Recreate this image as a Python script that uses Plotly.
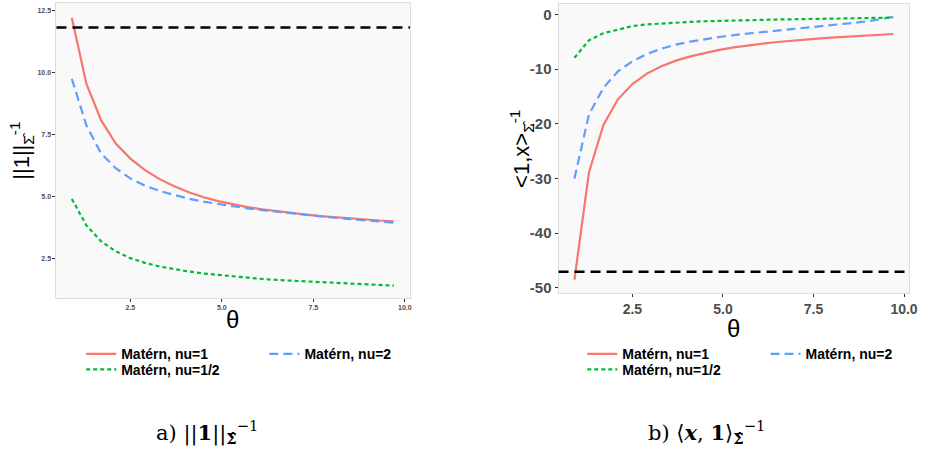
import plotly.graph_objects as go

theta = [0.9, 1.3, 1.7, 2.1, 2.5, 2.9, 3.3, 3.7, 4.1, 4.5, 4.9, 5.3, 5.7, 6.1,
         6.5, 6.9, 7.3, 7.7, 8.1, 8.5, 8.9, 9.3, 9.7]

# panel a) ||1||
norm_nu1 = [12.23, 9.55, 8.09, 7.15, 6.54, 6.07, 5.71, 5.42, 5.18, 4.98, 4.82, 4.69,
            4.58, 4.49, 4.41, 4.34, 4.28, 4.22, 4.17, 4.12, 4.08, 4.04, 4.01]
norm_nu2 = [9.76, 7.87, 6.75, 6.15, 5.74, 5.45, 5.23, 5.06, 4.92, 4.80, 4.70, 4.61,
            4.53, 4.46, 4.39, 4.33, 4.27, 4.21, 4.15, 4.10, 4.05, 4.00, 3.95]
norm_nu05 = [4.91, 3.84, 3.20, 2.80, 2.52, 2.33, 2.18, 2.07, 1.98, 1.90, 1.84, 1.78,
             1.73, 1.68, 1.64, 1.61, 1.58, 1.55, 1.52, 1.49, 1.46, 1.43, 1.41]
norm_ref = 11.83

# panel b) <1,x>
inner_nu1 = [-48.5, -28.9, -20.2, -15.5, -12.7, -10.8, -9.45, -8.42, -7.64, -7.0, -6.45,
             -6.0, -5.62, -5.3, -5.02, -4.77, -4.55, -4.35, -4.17, -4.0, -3.85, -3.7, -3.55]
inner_nu2 = [-30.0, -18.3, -13.4, -10.4, -8.55, -7.2, -6.25, -5.5, -4.95, -4.5, -4.1,
             -3.75, -3.45, -3.15, -2.9, -2.65, -2.4, -2.15, -1.9, -1.6, -1.3, -0.9, -0.4]
inner_nu05 = [-7.9, -4.7, -3.4, -2.75, -2.1, -1.8, -1.6, -1.45, -1.33, -1.22, -1.13,
              -1.06, -1.0, -0.95, -0.9, -0.86, -0.82, -0.78, -0.74, -0.7, -0.66, -0.6, -0.55]
inner_ref = -47.09

names = ["Matérn, nu=1", "Matérn, nu=2", "Matérn, nu=1/2"]
colors = ["#F8766D", "#619CFF", "#00BA38"]
dashes = ["solid", "9px,5px", "4px,3px"]

W, H = 927, 456
def px(v): return v / W
def py(v): return 1 - v / H

fig = go.Figure()

left_series = [norm_nu1, norm_nu2, norm_nu05]
right_series = [inner_nu1, inner_nu2, inner_nu05]
left_legends = ["legend", "legend2", "legend3"]
right_legends = ["legend4", "legend5", "legend6"]

for i in range(3):
    fig.add_trace(go.Scatter(x=theta, y=left_series[i], mode="lines", name=names[i],
                             line=dict(color=colors[i], width=2.2, dash=dashes[i]),
                             xaxis="x", yaxis="y", legend=left_legends[i], showlegend=True))
for i in range(3):
    fig.add_trace(go.Scatter(x=theta, y=right_series[i], mode="lines", name=names[i],
                             line=dict(color=colors[i], width=2.2, dash=dashes[i]),
                             xaxis="x2", yaxis="y2", legend=right_legends[i], showlegend=True))

fig.add_shape(type="line", xref="x domain", yref="y", x0=0, x1=1, y0=norm_ref, y1=norm_ref,
              line=dict(color="black", width=2.5, dash="10px,6px"))
fig.add_shape(type="line", xref="x2 domain", yref="y2", x0=0, x1=1, y0=inner_ref, y1=inner_ref,
              line=dict(color="black", width=2.5, dash="10px,6px"))

axcommon = dict(showgrid=False, zeroline=False, showline=True, mirror=True,
                linecolor="#DDDDDD", linewidth=1, ticks="outside", ticklen=3,
                tickcolor="#333333")

fig.update_layout(
    width=W, height=H, margin=dict(l=0, r=0, t=0, b=0),
    showlegend=True,
    paper_bgcolor="white", plot_bgcolor="#F9F9F9",
    font=dict(family="Liberation Sans, Arial", color="#4D4D4D"),
    xaxis=dict(domain=[px(57), px(414)], range=[0.48, 10.14], anchor="y",
               tickvals=[2.5, 5.0, 7.5, 10.0], ticktext=["2.5", "5.0", "7.5", "10.0"],
               tickfont=dict(size=7, weight="bold"), **axcommon),
    yaxis=dict(domain=[py(300), py(3.3)], range=[0.91, 12.81], anchor="x",
               tickvals=[2.5, 5.0, 7.5, 10.0, 12.5], ticktext=["2.5", "5.0", "7.5", "10.0", "12.5"],
               tickfont=dict(size=7, weight="bold"), **axcommon),
    xaxis2=dict(domain=[px(564), px(918)], range=[0.46, 10.14], anchor="y2",
                tickvals=[2.5, 5.0, 7.5, 10.0], ticktext=["2.5", "5.0", "7.5", "10.0"],
                tickfont=dict(size=14, weight="bold"), **axcommon),
    yaxis2=dict(domain=[py(295), py(3.7)], range=[-50.97, 2.0], anchor="x2",
                tickvals=[-50, -40, -30, -20, -10, 0],
                ticktext=["-50", "-40", "-30", "-20", "-10", "0"],
                tickfont=dict(size=15, weight="bold"), **axcommon),
)

axis_titles = [
    ("θ", 235, 322, 0, 24),
    ("θ", 741, 331, 0, 24),
    ("||1||<sub>Σ̂</sub><sup>-1</sup>", 22, 152, -90, 22),
    ("&lt;1,x&gt;<sub>Σ̂</sub><sup>-1</sup>", 526, 150, -90, 22),
]
for txt, ax_, ay_, ang, sz in axis_titles:
    fig.add_annotation(text=txt, x=px(ax_), y=py(ay_), xref="paper", yref="paper",
                       showarrow=False, textangle=ang, xanchor="center", yanchor="middle",
                       font=dict(family="Liberation Sans, Arial", size=sz, color="black"))

leg_font = dict(family="Liberation Sans, Arial", size=14, color="black", weight="bold")
leg_pos = {
    "legend": (82, 356.7), "legend2": (267, 356.7), "legend3": (82, 372.3),
    "legend4": (588, 356.7), "legend5": (773, 356.7), "legend6": (588, 372.3),
}
for key, (lx, ly) in leg_pos.items():
    fig.update_layout({key: dict(x=px(lx), y=py(ly), xanchor="left", yanchor="middle",
                                 xref="paper", yref="paper", font=leg_font, visible=True,
                                 bgcolor="rgba(0,0,0,0)", borderwidth=0)})

cap_font = dict(family="DejaVu Serif", size=21, color="black")
fig.add_annotation(text="a) ||<b>1</b>||<sub><b>Σ̂</b></sub><sup>−1</sup>", x=px(209), y=py(435),
                   xref="paper", yref="paper", showarrow=False, font=cap_font,
                   xanchor="center", yanchor="middle")
fig.add_annotation(text="b) ⟨<b><i>x</i></b>, <b>1</b>⟩<sub><b>Σ̂</b></sub><sup>−1</sup>", x=px(713), y=py(435),
                   xref="paper", yref="paper", showarrow=False, font=cap_font,
                   xanchor="center", yanchor="middle")

fig.write_html("out.html")
